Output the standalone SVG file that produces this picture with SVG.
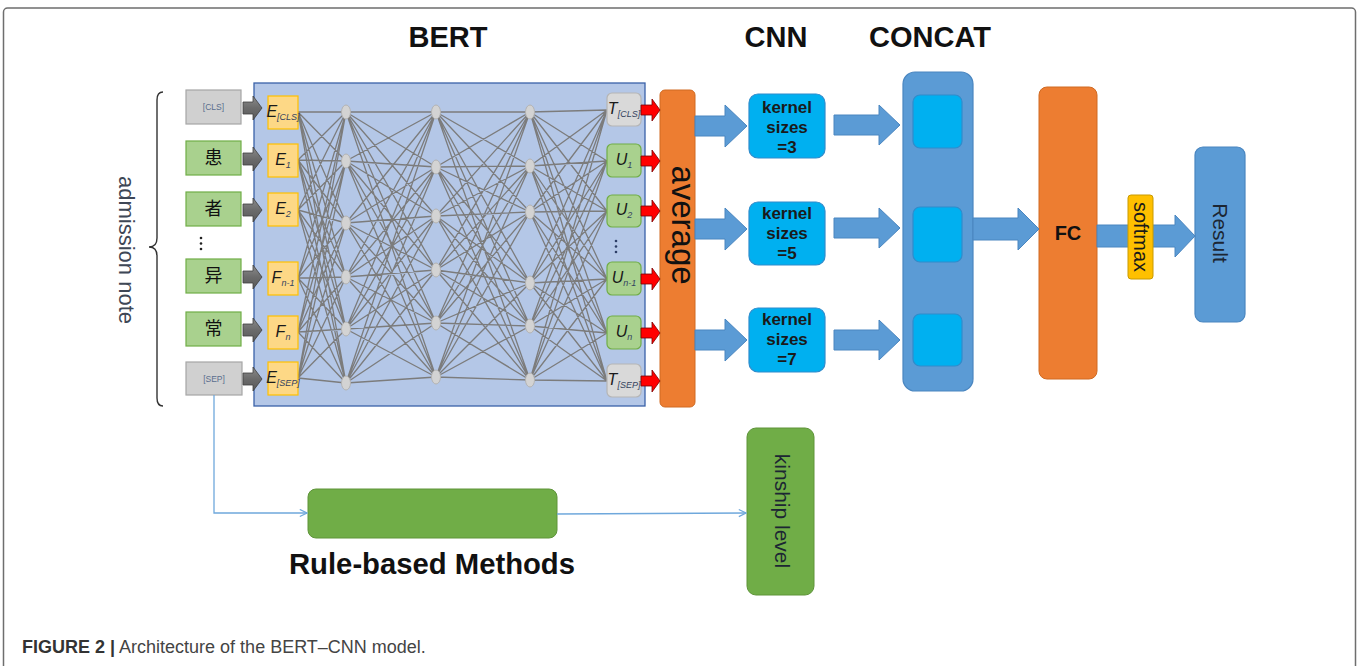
<svg xmlns="http://www.w3.org/2000/svg" xmlns:xlink="http://www.w3.org/1999/xlink" width="1360" height="666" viewBox="0 0 1360 666">
  <style>
    .sans { font-family: "Liberation Sans", Arial, sans-serif; }
    .cjk { font-family: "Noto Sans CJK SC", "Noto Sans CJK JP", sans-serif; font-size: 18px; fill: #111; }
    .title { font-family: "Liberation Sans", Arial, sans-serif; font-weight: bold; font-size: 29px; fill: #111; text-anchor: middle; }
    .tok-gray { fill: #d0d0d0; stroke: #a6a6a6; stroke-width: 1.2; }
    .tok-green { fill: #a9d18e; stroke: #70ad47; stroke-width: 1.2; }
    .tok-small { font-family: "Liberation Sans", Arial, sans-serif; font-size: 8.5px; fill: #5a6e8e; text-anchor: middle; }
    .emb { fill: #fdd886; stroke: #ffc000; stroke-width: 1.2; }
    .out-gray { fill: #d9d9d9; stroke: #b5b5b5; stroke-width: 1.2; }
    .out-green { fill: #a9d18e; stroke: #70ad47; stroke-width: 1.2; }
    .sym { font-family: "Liberation Sans", Arial, sans-serif; font-style: italic; font-size: 16px; fill: #1a1a1a; text-anchor: middle; }
    .sub { font-size: 9px; fill: #34435e; }
    .neuron { fill: #d3d3d3; stroke: #b3b3b3; stroke-width: 1; }
    .wire { fill: none; stroke: #7c7c7c; stroke-width: 1.3; stroke-linejoin: round; }
    .blue-arrow { fill: #5b9bd5; stroke: #4a86c0; stroke-width: 1; }
    .kernel { fill: #00b0f0; stroke: #2f8ccc; stroke-width: 1.2; }
    .ktext { font-family: "Liberation Sans", Arial, sans-serif; font-weight: bold; font-size: 17px; fill: #1a1a1a; text-anchor: middle; }
    .rot { font-family: "Liberation Sans", Arial, sans-serif; text-anchor: middle; }
    .thin-link { fill: none; stroke: #6fa8dc; stroke-width: 1.3; }
  </style>
  <defs>
    <linearGradient id="grayArrowFill" x1="0" y1="0" x2="0" y2="1">
      <stop offset="0" stop-color="#8c8c8c"/>
      <stop offset="0.5" stop-color="#6b6b6b"/>
      <stop offset="1" stop-color="#595959"/>
    </linearGradient>
    <path id="grayArrow" d="M0,-6H10V-12L19,0L10,12V6H0Z" fill="url(#grayArrowFill)" stroke="#3f3f3f" stroke-width="0.8"/>
    <path id="redArrow" d="M0,-5H11V-11L19,0L11,11V5H0Z" fill="#ff0000" stroke="#7a0000" stroke-width="0.8"/>
    <ellipse id="neuron" rx="4.5" ry="7" class="neuron"/>
    <marker id="chev" viewBox="0 0 10 10" refX="9" refY="5" markerWidth="9" markerHeight="9" orient="auto" markerUnits="userSpaceOnUse">
      <path d="M1,1L9,5L1,9" fill="none" stroke="#6fa8dc" stroke-width="1.3"/>
    </marker>
  </defs>

  <!-- outer frame -->
  <rect x="3.5" y="8" width="1352" height="680" rx="4" fill="#ffffff" stroke="#6e6e6e" stroke-width="1.5"/>

  <!-- section headings -->
  <text class="title" x="448" y="47">BERT</text>
  <text class="title" x="776" y="47">CNN</text>
  <text class="title" x="930" y="47">CONCAT</text>

  <!-- input sentence -->
  <g id="admission-note">
    <path d="M163,92 Q157,92 157,100 L157,238 Q157,247 149,247 Q157,247 157,256 L157,398 Q157,406 163,406" fill="none" stroke="#333" stroke-width="1.4"/>
    <text class="rot" font-size="22" fill="#3e4756" transform="translate(119,250) rotate(90)">admission note</text>
  </g>

  <g id="tok-cls">
    <rect class="tok-gray" x="186" y="90" width="55" height="34"/>
    <text class="tok-small" x="213.5" y="110">[CLS]</text>
  </g>
  <g id="tok-1">
    <rect class="tok-green" x="186" y="141" width="55" height="34"/>
    <text class="cjk" x="213.5" y="164" text-anchor="middle">患</text>
  </g>
  <g id="tok-2">
    <rect class="tok-green" x="186" y="192" width="55" height="34"/>
    <text class="cjk" x="213.5" y="215" text-anchor="middle">者</text>
  </g>
  <g id="tok-dots">
    <circle cx="201" cy="238" r="1.3" fill="#222"/>
    <circle cx="201" cy="243.5" r="1.3" fill="#222"/>
    <circle cx="201" cy="249" r="1.3" fill="#222"/>
  </g>
  <g id="tok-n1">
    <rect class="tok-green" x="186" y="259" width="55" height="34"/>
    <text class="cjk" x="213.5" y="282" text-anchor="middle">异</text>
  </g>
  <g id="tok-n">
    <rect class="tok-green" x="186" y="312" width="55" height="34"/>
    <text class="cjk" x="213.5" y="335" text-anchor="middle">常</text>
  </g>
  <g id="tok-sep">
    <rect class="tok-gray" x="186" y="362" width="56" height="33"/>
    <text class="tok-small" x="214" y="382">[SEP]</text>
  </g>

  <!-- BERT encoder block -->
  <g id="bert">
    <rect x="254" y="83" width="391" height="323" fill="#b4c7e7" stroke="#3a62a8" stroke-width="1.3"/>
    <path class="wire" d="M298 112L346 112M298 112L346 161M298 112L346 223M298 112L346 277M298 112L346 329M298 112L346 383
M298 160L346 112M298 160L346 161M298 160L346 223M298 160L346 277M298 160L346 329M298 160L346 383
M298 210L346 112M298 210L346 161M298 210L346 223M298 210L346 277M298 210L346 329M298 210L346 383
M298 278L346 112M298 278L346 161M298 278L346 223M298 278L346 277M298 278L346 329M298 278L346 383
M298 332L346 112M298 332L346 161M298 332L346 223M298 332L346 277M298 332L346 329M298 332L346 383
M298 378L346 112M298 378L346 161M298 378L346 223M298 378L346 277M298 378L346 329M298 378L346 383
M346 112L436 112M346 112L436 167M346 112L436 216M346 112L436 270M346 112L436 323M346 112L436 377
M346 161L436 112M346 161L436 167M346 161L436 216M346 161L436 270M346 161L436 323M346 161L436 377
M346 223L436 112M346 223L436 167M346 223L436 216M346 223L436 270M346 223L436 323M346 223L436 377
M346 277L436 112M346 277L436 167M346 277L436 216M346 277L436 270M346 277L436 323M346 277L436 377
M346 329L436 112M346 329L436 167M346 329L436 216M346 329L436 270M346 329L436 323M346 329L436 377
M346 383L436 112M346 383L436 167M346 383L436 216M346 383L436 270M346 383L436 323M346 383L436 377
M436 112L530 112M436 112L530 166M436 112L530 212M436 112L530 283M436 112L530 326M436 112L530 380
M436 167L530 112M436 167L530 166M436 167L530 212M436 167L530 283M436 167L530 326M436 167L530 380
M436 216L530 112M436 216L530 166M436 216L530 212M436 216L530 283M436 216L530 326M436 216L530 380
M436 270L530 112M436 270L530 166M436 270L530 212M436 270L530 283M436 270L530 326M436 270L530 380
M436 323L530 112M436 323L530 166M436 323L530 212M436 323L530 283M436 323L530 326M436 323L530 380
M436 377L530 112M436 377L530 166M436 377L530 212M436 377L530 283M436 377L530 326M436 377L530 380
M530 112L607 110M530 112L607 161M530 112L607 211M530 112L607 279M530 112L607 333M530 112L607 381
M530 166L607 110M530 166L607 161M530 166L607 211M530 166L607 279M530 166L607 333M530 166L607 381
M530 212L607 110M530 212L607 161M530 212L607 211M530 212L607 279M530 212L607 333M530 212L607 381
M530 283L607 110M530 283L607 161M530 283L607 211M530 283L607 279M530 283L607 333M530 283L607 381
M530 326L607 110M530 326L607 161M530 326L607 211M530 326L607 279M530 326L607 333M530 326L607 381
M530 380L607 110M530 380L607 161M530 380L607 211M530 380L607 279M530 380L607 333M530 380L607 381"/>
    <!-- hidden layers -->
    <use href="#neuron" x="346" y="112"/><use href="#neuron" x="346" y="161"/><use href="#neuron" x="346" y="223"/>
    <use href="#neuron" x="346" y="277"/><use href="#neuron" x="346" y="329"/><use href="#neuron" x="346" y="383"/>
    <use href="#neuron" x="436" y="112"/><use href="#neuron" x="436" y="167"/><use href="#neuron" x="436" y="216"/>
    <use href="#neuron" x="436" y="270"/><use href="#neuron" x="436" y="323"/><use href="#neuron" x="436" y="377"/>
    <use href="#neuron" x="530" y="112"/><use href="#neuron" x="530" y="166"/><use href="#neuron" x="530" y="212"/>
    <use href="#neuron" x="530" y="283"/><use href="#neuron" x="530" y="326"/><use href="#neuron" x="530" y="380"/>
  </g>

  <!-- embeddings -->
  <g id="emb-cls"><rect class="emb" x="268" y="96" width="30" height="33"/>
    <text class="sym" x="283" y="117">E<tspan class="sub" dy="3">[CLS]</tspan></text></g>
  <g id="emb-1"><rect class="emb" x="268" y="144" width="30" height="33"/>
    <text class="sym" x="283" y="165">E<tspan class="sub" dy="3">1</tspan></text></g>
  <g id="emb-2"><rect class="emb" x="268" y="193" width="30" height="33"/>
    <text class="sym" x="283" y="214">E<tspan class="sub" dy="3">2</tspan></text></g>
  <g id="emb-n1"><rect class="emb" x="268" y="262" width="30" height="33"/>
    <text class="sym" x="283" y="283">F<tspan class="sub" dy="3">n-1</tspan></text></g>
  <g id="emb-n"><rect class="emb" x="268" y="316" width="30" height="33"/>
    <text class="sym" x="283" y="337">F<tspan class="sub" dy="3">n</tspan></text></g>
  <g id="emb-sep"><rect class="emb" x="268" y="362" width="30" height="33"/>
    <text class="sym" x="283" y="383">E<tspan class="sub" dy="3">[SEP]</tspan></text></g>

  <!-- encoder outputs -->
  <g id="out-cls"><rect class="out-gray" x="607" y="93" width="34" height="33" rx="5"/>
    <text class="sym" x="624" y="114">T<tspan class="sub" dy="3">[CLS]</tspan></text></g>
  <g id="out-1"><rect class="out-green" x="607" y="144" width="34" height="33" rx="5"/>
    <text class="sym" x="624" y="165">U<tspan class="sub" dy="3">1</tspan></text></g>
  <g id="out-2"><rect class="out-green" x="607" y="195" width="34" height="32" rx="5"/>
    <text class="sym" x="624" y="215">U<tspan class="sub" dy="3">2</tspan></text></g>
  <g id="out-dots">
    <circle cx="616" cy="241" r="1.3" fill="#2c3e66"/>
    <circle cx="616" cy="246.5" r="1.3" fill="#2c3e66"/>
    <circle cx="616" cy="252" r="1.3" fill="#2c3e66"/>
  </g>
  <g id="out-n1"><rect class="out-green" x="607" y="262" width="34" height="33" rx="5"/>
    <text class="sym" x="624" y="283">U<tspan class="sub" dy="3">n-1</tspan></text></g>
  <g id="out-n"><rect class="out-green" x="607" y="316" width="34" height="33" rx="5"/>
    <text class="sym" x="624" y="337">U<tspan class="sub" dy="3">n</tspan></text></g>
  <g id="out-sep"><rect class="out-gray" x="607" y="364" width="34" height="33" rx="5"/>
    <text class="sym" x="624" y="385">T<tspan class="sub" dy="3">[SEP]</tspan></text></g>

  <!-- pooling and downstream blocks -->
  <g id="average">
    <rect x="660" y="90" width="35" height="317" rx="5" fill="#ed7d31" stroke="#d06a22" stroke-width="1"/>
    <text class="rot" font-size="33" fill="#111" transform="translate(672,225) rotate(90)">average</text>
  </g>

  <g id="kernel-3">
    <rect class="kernel" x="749" y="94" width="76" height="64" rx="9"/>
    <text class="ktext" x="787" y="113">kernel</text>
    <text class="ktext" x="787" y="133">sizes</text>
    <text class="ktext" x="787" y="153">=3</text>
  </g>
  <g id="kernel-5">
    <rect class="kernel" x="749" y="202" width="76" height="63" rx="9"/>
    <text class="ktext" x="787" y="219">kernel</text>
    <text class="ktext" x="787" y="239">sizes</text>
    <text class="ktext" x="787" y="259">=5</text>
  </g>
  <g id="kernel-7">
    <rect class="kernel" x="749" y="308" width="76" height="64" rx="9"/>
    <text class="ktext" x="787" y="325">kernel</text>
    <text class="ktext" x="787" y="345">sizes</text>
    <text class="ktext" x="787" y="365">=7</text>
  </g>

  <g id="concat">
    <rect x="903" y="72" width="70" height="319" rx="12" fill="#5b9bd5" stroke="#4a86c0" stroke-width="1.2"/>
    <rect class="kernel" x="913" y="95" width="49" height="53" rx="7"/>
    <rect class="kernel" x="913" y="207" width="49" height="55" rx="7"/>
    <rect class="kernel" x="913" y="314" width="49" height="52" rx="7"/>
  </g>

  <g id="fc">
    <rect x="1039" y="87" width="58" height="292" rx="8" fill="#ed7d31" stroke="#d06a22" stroke-width="1"/>
    <text class="sans" x="1068" y="240" font-size="20" font-weight="bold" fill="#111" text-anchor="middle">FC</text>
  </g>

  <g id="result">
    <rect x="1195" y="147" width="50" height="175" rx="8" fill="#5b9bd5" stroke="#4a86c0" stroke-width="1.2"/>
    <text class="rot" font-size="21" fill="#1c2633" transform="translate(1213,233) rotate(90)">Result</text>
  </g>

  <g id="rule-based">
    <rect x="308" y="489" width="249" height="49" rx="8" fill="#70ad47" stroke="#5e9439" stroke-width="1"/>
    <text class="sans" x="432" y="574" font-size="29" font-weight="bold" fill="#111" text-anchor="middle" textLength="286" lengthAdjust="spacingAndGlyphs">Rule-based Methods</text>
  </g>

  <g id="kinship">
    <rect x="747" y="428" width="67" height="167" rx="9" fill="#70ad47" stroke="#5e9439" stroke-width="1"/>
    <text class="rot" font-size="21" fill="#1c2633" transform="translate(775,511) rotate(90)">kinship level</text>
  </g>

  <!-- connectors -->
  <g id="connectors">
    <use href="#grayArrow" x="243" y="108"/>
    <use href="#grayArrow" x="243" y="159"/>
    <use href="#grayArrow" x="243" y="210"/>
    <use href="#grayArrow" x="243" y="277"/>
    <use href="#grayArrow" x="243" y="330"/>
    <use href="#grayArrow" x="243" y="379"/>

    <use href="#redArrow" x="641" y="110"/>
    <use href="#redArrow" x="641" y="161"/>
    <use href="#redArrow" x="641" y="211"/>
    <use href="#redArrow" x="641" y="279"/>
    <use href="#redArrow" x="641" y="333"/>
    <use href="#redArrow" x="641" y="381"/>

    <polygon class="blue-arrow" points="695,116 725,116 725,105 747,126 725,147 725,136 695,136"/>
    <polygon class="blue-arrow" points="695,219 725,219 725,208 747,229 725,250 725,239 695,239"/>
    <polygon class="blue-arrow" points="695,330 725,330 725,319 747,340 725,361 725,350 695,350"/>

    <polygon class="blue-arrow" points="834,115 879,115 879,105 900,125 879,145 879,135 834,135"/>
    <polygon class="blue-arrow" points="834,218 879,218 879,208 900,228 879,248 879,238 834,238"/>
    <polygon class="blue-arrow" points="834,330 879,330 879,320 900,340 879,360 879,350 834,350"/>

    <polygon class="blue-arrow" points="973,218 1018,218 1018,208 1039,229 1018,250 1018,240 973,240"/>
    <polygon class="blue-arrow" points="1097,225 1175,225 1175,215 1195,236 1175,257 1175,247 1097,247"/>

    <path class="thin-link" d="M214,395 V513 H307" marker-end="url(#chev)"/>
    <path class="thin-link" d="M557,514 L746,513" marker-end="url(#chev)"/>
  </g>

  <g id="softmax">
    <rect x="1128" y="195" width="25" height="84" rx="3" fill="#ffc000" stroke="#c99a00" stroke-width="1"/>
    <text class="rot" font-size="20" fill="#1a1a1a" transform="translate(1134,237) rotate(90)">softmax</text>
  </g>

  <!-- caption -->
  <text class="sans" x="22" y="653" font-size="18" fill="#444"><tspan font-weight="bold" fill="#333">FIGURE 2 |</tspan> Architecture of the BERT–CNN model.</text>
</svg>
